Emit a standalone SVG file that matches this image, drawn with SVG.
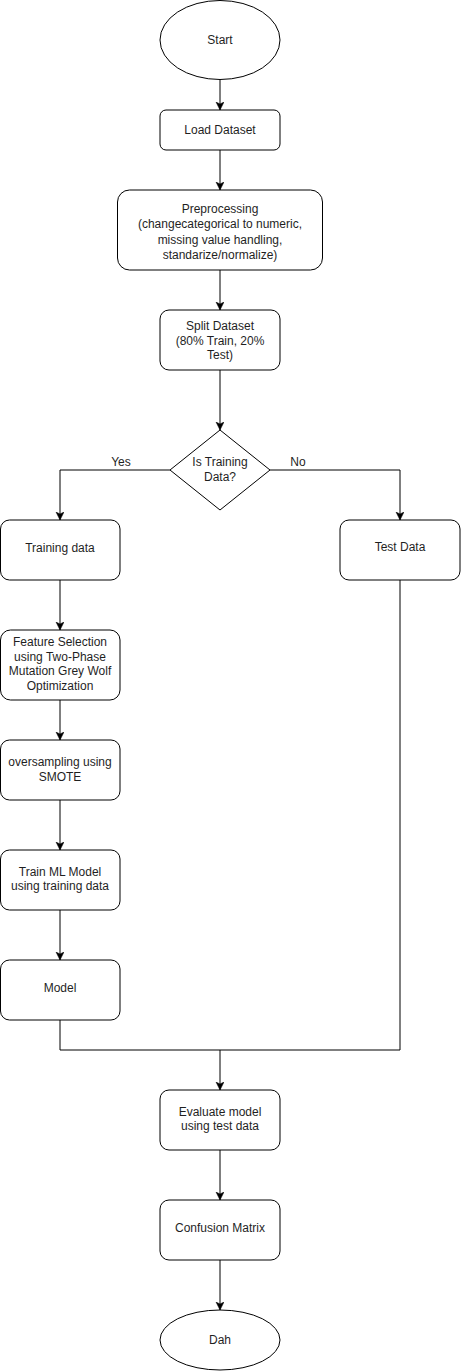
<svg xmlns="http://www.w3.org/2000/svg" width="461" height="1371" viewBox="0 0 461 1371">
<defs>
<style>
.n{fill:#fff;stroke:#000;stroke-width:1}
.t{font-family:"Liberation Sans",Arial,sans-serif;font-size:12px;fill:#1f1f1f;text-anchor:middle;dominant-baseline:central}
.e{fill:none;stroke:#000;stroke-width:1}
</style>
<marker id="a" markerWidth="10" markerHeight="10" refX="8" refY="4" orient="auto" markerUnits="userSpaceOnUse">
<path d="M0,0 L8,4 L0,8 L2,4 Z" fill="#000" stroke="#000" stroke-width="0.5"/>
</marker>
</defs>
<rect width="461" height="1371" fill="#fff"/>
<g id="edges">
<path class="e" d="M220,80 V110" marker-end="url(#a)"/>
<path class="e" d="M220,150 V190" marker-end="url(#a)"/>
<path class="e" d="M220,270 V310" marker-end="url(#a)"/>
<path class="e" d="M220,370 V430" marker-end="url(#a)"/>
<path class="e" d="M170,470 H60 V520" marker-end="url(#a)"/>
<path class="e" d="M270,470 H400 V520" marker-end="url(#a)"/>
<path class="e" d="M60,580 V630" marker-end="url(#a)"/>
<path class="e" d="M60,700 V740" marker-end="url(#a)"/>
<path class="e" d="M60,800 V850" marker-end="url(#a)"/>
<path class="e" d="M60,910 V960" marker-end="url(#a)"/>
<path class="e" d="M60,1020 V1050 H220 V1090" marker-end="url(#a)"/>
<path class="e" d="M400,580 V1050 H220"/>
<path class="e" d="M220,1150 V1200" marker-end="url(#a)"/>
<path class="e" d="M220,1260 V1310" marker-end="url(#a)"/>
<text class="t" x="121" y="462">Yes</text>
<text class="t" x="298" y="462">No</text>
</g>
<g id="start"><ellipse class="n" cx="220" cy="40" rx="60" ry="39.5"/><text class="t" x="220" y="40">Start</text></g>
<g id="load"><rect class="n" x="160" y="110" width="120" height="40" rx="6"/><text class="t" x="220" y="130">Load Dataset</text></g>
<g id="preprocessing"><rect class="n" x="117.5" y="190" width="205" height="80" rx="12"/>
<text class="t" x="220"><tspan x="220" y="208.5">Preprocessing</tspan><tspan x="220" y="224">(changecategorical to numeric,</tspan><tspan x="220" y="239.5">missing value handling,</tspan><tspan x="220" y="255">standarize/normalize)</tspan></text></g>
<g id="split"><rect class="n" x="160" y="310" width="120" height="60" rx="9"/>
<text class="t"><tspan x="220" y="326">Split Dataset</tspan><tspan x="220" y="340.5">(80% Train, 20%</tspan><tspan x="220" y="355">Test)</tspan></text></g>
<g id="decision"><path class="n" d="M220,430 L270,470 L220,510 L170,470 Z"/>
<text class="t"><tspan x="220" y="462">Is Training</tspan><tspan x="220" y="476.5">Data?</tspan></text></g>
<g id="training"><rect class="n" x="0.5" y="520" width="119.5" height="60" rx="9"/><text class="t" x="60" y="548">Training data</text></g>
<g id="test"><rect class="n" x="340" y="520" width="120" height="60" rx="9"/><text class="t" x="400" y="547">Test Data</text></g>
<g id="feature"><rect class="n" x="0.5" y="630" width="119.5" height="70" rx="10"/>
<text class="t"><tspan x="60" y="642">Feature Selection</tspan><tspan x="60" y="656.5">using Two-Phase</tspan><tspan x="60" y="671">Mutation Grey Wolf</tspan><tspan x="60" y="685.5">Optimization</tspan></text></g>
<g id="oversampling"><rect class="n" x="0.5" y="740" width="119.5" height="60" rx="9"/>
<text class="t"><tspan x="60" y="762">oversampling using</tspan><tspan x="60" y="776.5">SMOTE</tspan></text></g>
<g id="train"><rect class="n" x="0.5" y="850" width="119.5" height="60" rx="9"/>
<text class="t"><tspan x="60" y="871.5">Train ML Model</tspan><tspan x="60" y="886">using training data</tspan></text></g>
<g id="model"><rect class="n" x="0.5" y="960" width="119.5" height="60" rx="9"/><text class="t" x="60" y="988">Model</text></g>
<g id="evaluate"><rect class="n" x="160" y="1090" width="120" height="60" rx="9"/>
<text class="t"><tspan x="220" y="1111.5">Evaluate model</tspan><tspan x="220" y="1126">using test data</tspan></text></g>
<g id="confusion"><rect class="n" x="160" y="1200" width="120" height="60" rx="9"/><text class="t" x="220" y="1228">Confusion Matrix</text></g>
<g id="end"><ellipse class="n" cx="220" cy="1340" rx="60" ry="30"/><text class="t" x="220" y="1340">Dah</text></g>
</svg>
